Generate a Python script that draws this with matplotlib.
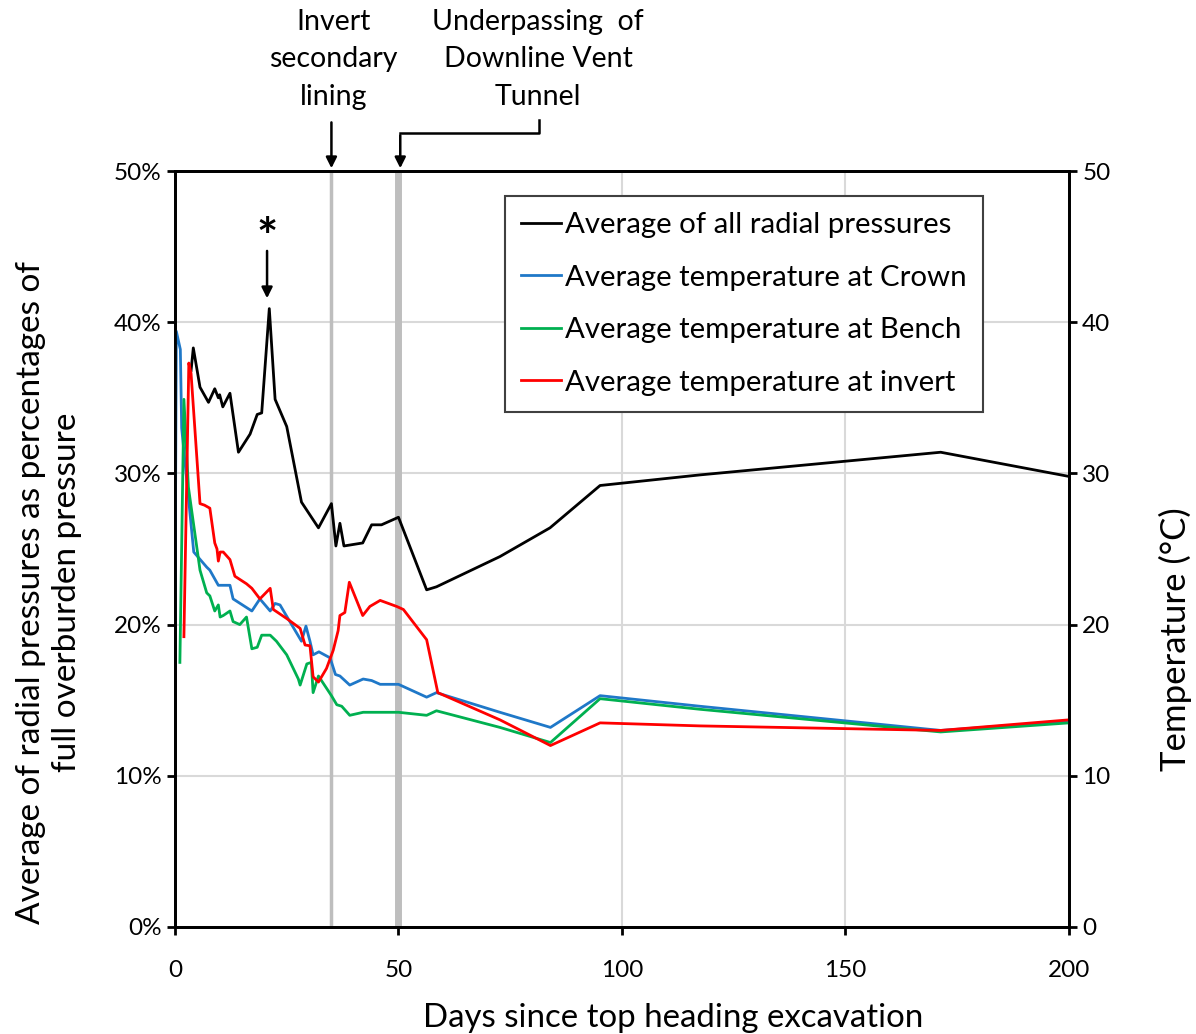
#!/usr/bin/env python3
# -*- coding: utf-8 -*-

"""
Radial pressure and lining temperature against days since top heading excavation
"""

import matplotlib
matplotlib.use("Agg")
import matplotlib.pyplot as plt
from matplotlib.ticker import PercentFormatter, MultipleLocator


# average of all radial pressures (fraction of full overburden pressure)
press_days = [3.6, 4.1, 5.6, 7.5, 8.9, 9.7, 10.0, 10.7, 12.3, 14.2, 16.8, 18.4, 19.4,
              21.1, 22.4, 25.0, 28.3, 32.1, 35.0, 36.0, 36.9, 37.8, 42.0, 44.0, 46.2,
              50.0, 56.3, 58.5, 72.7, 83.9, 95.1, 117.4, 171.3, 200.0]
press_vals = [0.368, 0.383, 0.357, 0.347, 0.356, 0.350, 0.352, 0.344, 0.353, 0.314,
              0.326, 0.339, 0.340, 0.409, 0.349, 0.331, 0.281, 0.264, 0.280, 0.252,
              0.267, 0.252, 0.254, 0.266, 0.266, 0.271, 0.223, 0.225, 0.245, 0.264,
              0.292, 0.299, 0.314, 0.298]

# average temperatures (deg C)
crown_days = [0.0, 0.3, 1.2, 1.5, 4.2, 7.1, 7.8, 9.7, 12.3, 13.0, 17.2, 19.0, 21.3,
              22.4, 23.5, 28.3, 29.3, 30.2, 30.9, 32.2, 34.7, 35.9, 36.9, 39.1, 42.1,
              44.0, 45.9, 50.0, 56.3, 58.5, 72.7, 84.0, 95.1, 117.4, 171.3, 200.0]
crown_vals = [20.0, 39.4, 38.2, 33.0, 24.8, 23.8, 23.6, 22.6, 22.6, 21.7, 20.9, 21.7,
              20.9, 21.4, 21.3, 18.9, 19.9, 18.9, 18.0, 18.2, 17.8, 16.7, 16.6, 16.0,
              16.4, 16.3, 16.05, 16.05, 15.2, 15.5, 14.2, 13.2, 15.3, 14.6, 13.0, 13.6]

bench_days = [1.1, 2.0, 3.0, 5.6, 7.1, 7.8, 8.9, 9.7, 10.1, 10.8, 12.3, 13.0, 14.5,
              16.0, 17.2, 18.4, 19.4, 21.3, 22.7, 25.0, 27.6, 28.0, 29.5, 30.5, 30.9,
              32.1, 35.0, 36.2, 37.3, 39.1, 42.1, 50.0, 56.3, 58.5, 72.7, 84.0, 95.1,
              117.4, 171.3, 200.0]
bench_vals = [17.5, 34.9, 29.1, 23.6, 22.1, 21.9, 20.9, 21.3, 20.5, 20.6, 20.9, 20.2,
              20.0, 20.5, 18.4, 18.5, 19.3, 19.3, 18.9, 18.0, 16.4, 16.0, 17.4, 17.5,
              15.5, 16.6, 15.3, 14.7, 14.6, 14.0, 14.2, 14.2, 14.0, 14.3, 13.2, 12.2,
              15.1, 14.4, 12.9, 13.5]

invert_days = [2.0, 3.1, 3.6, 5.6, 6.6, 7.8, 8.9, 9.4, 9.7, 10.1, 10.8, 12.3, 13.4,
               16.0, 17.2, 19.0, 21.3, 22.0, 25.0, 28.0, 29.1, 30.2, 30.9, 32.1, 33.9,
               35.4, 36.5, 36.9, 38.0, 39.0, 42.0, 43.6, 45.9, 49.6, 51.1, 56.3, 58.8,
               72.7, 84.0, 95.1, 117.4, 171.3, 200.0]
invert_vals = [19.2, 37.3, 36.6, 28.0, 27.9, 27.7, 25.4, 25.0, 24.2, 24.8, 24.8, 24.3,
               23.2, 22.7, 22.4, 21.7, 22.4, 21.0, 20.4, 19.75, 18.65, 18.6, 16.55, 16.2,
               17.1, 18.3, 19.6, 20.6, 20.8, 22.8, 20.6, 21.2, 21.6, 21.2, 21.0, 19.0,
               15.5, 13.7, 12.0, 13.5, 13.3, 13.0, 13.7]

labels = ["Average of all radial pressures", "Average temperature at Crown",
          "Average temperature at Bench", "Average temperature at invert"]
colors = ["#000000", "#1F78C8", "#00B050", "#FF0000"]

event_days = [35, 50]

plt.rcParams['font.family'] = ['Lato', 'DejaVu Sans']
FS_TICK = 17.5
FS_TXT = 20.5

fig = plt.figure(figsize=(11.96, 10.34), dpi=100)
ax = fig.add_axes([0.1463, 0.1035, 0.7475, 0.7311])
ax2 = ax.twinx()

ax.set_xlim(0, 200)
ax.set_ylim(0, 0.5)
ax2.set_ylim(0, 50)
ax.xaxis.set_major_locator(MultipleLocator(50))
ax.yaxis.set_major_locator(MultipleLocator(0.1))
ax2.yaxis.set_major_locator(MultipleLocator(10))
ax.yaxis.set_major_formatter(PercentFormatter(1.0, decimals=0))
ax.grid(True, color="#D9D9D9", lw=1.5, zorder=0)

# event markers
ax.axvline(event_days[0], color="#BEBEBE", lw=2.5, zorder=2)
ax.axvline(event_days[1], color="#BEBEBE", lw=5, zorder=2)

l0, = ax.plot(press_days, press_vals, color=colors[0], lw=2, zorder=3)
l1, = ax2.plot(crown_days, crown_vals, color=colors[1], lw=2)
l2, = ax2.plot(bench_days, bench_vals, color=colors[2], lw=2)
l3, = ax2.plot(invert_days, invert_vals, color=colors[3], lw=2)

for a in (ax, ax2):
    for s in a.spines.values():
        s.set_linewidth(2)
    a.tick_params(labelsize=FS_TICK, width=2, length=6, direction="out")
ax.tick_params(axis="x", pad=18)

ax.set_xlabel("Days since top heading excavation", fontsize=23.8)
ax.xaxis.set_label_coords(0.557, -0.1)
ax.set_ylabel("Average of radial pressures as percentages of\nfull overburden pressure",
              fontsize=24, linespacing=1.25)
ax.yaxis.set_label_coords(-0.104, 0.443)
ax2.set_ylabel("Temperature (°C)", fontsize=25)
ax2.yaxis.set_label_coords(1.1, 0.381)

leg = ax2.legend([l0, l1, l2, l3], labels, loc="upper right",
                 bbox_to_anchor=(0.904, 0.967), fontsize=21.2, handlelength=1.35,
                 handletextpad=0.15, labelspacing=0.9, borderpad=0.55,
                 borderaxespad=0, fancybox=False, framealpha=1, edgecolor="#404040")
leg.get_frame().set_linewidth(1.5)

# annotations above the plot
ax.text(35.5, 0.574, "Invert\nsecondary\nlining", ha="center", va="center",
        fontsize=FS_TXT, linespacing=1.55, clip_on=False)
ax.annotate("", xy=(35, 0.5), xytext=(35, 0.534), annotation_clip=False,
            arrowprops=dict(arrowstyle="-|>", color="k", lw=1.8, mutation_scale=16))
ax.text(81.2, 0.574, "Underpassing  of\nDownline Vent\nTunnel", ha="center", va="center",
        fontsize=FS_TXT, linespacing=1.55, clip_on=False)
ax.plot([81.5, 81.5, 50.4], [0.534, 0.525, 0.525], color="k", lw=1.8, clip_on=False)
ax.annotate("", xy=(50.4, 0.5), xytext=(50.4, 0.5255), annotation_clip=False,
            arrowprops=dict(arrowstyle="-|>", color="k", lw=1.8, mutation_scale=16))

# peak marker
ax.text(20.6, 0.455, "*", ha="center", va="center", fontsize=36, fontweight="bold")
ax.annotate("", xy=(20.6, 0.414), xytext=(20.6, 0.449),
            arrowprops=dict(arrowstyle="-|>", color="k", lw=1.8, mutation_scale=16))

fig.savefig("out.png", dpi=100)
